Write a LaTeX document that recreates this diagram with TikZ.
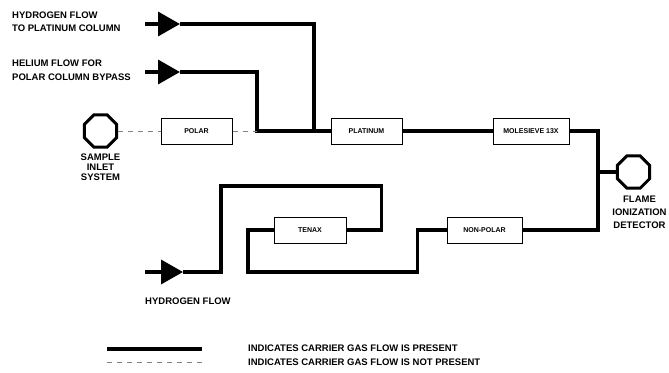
\documentclass[tikz,border=0pt]{standalone}
\usepackage{fontspec}
\setmainfont{Liberation Sans}
\usetikzlibrary{positioning, calc, shapes, arrows.meta}

\tikzset{
  flow/.style={line width=3.5pt},
  noflow/.style={gray, line width=0.8pt, dash pattern=on 5pt off 5pt},
  feed/.style={flow, -{Triangle[length=22pt,width=24pt]}},
  column/.style={draw, line width=1pt, minimum height=26pt, inner sep=0pt, font=\fontsize{7}{8}\selectfont\bfseries},
  detector/.style={draw, regular polygon, regular polygon sides=8, minimum size=35pt, line width=3pt, inner sep=0pt},
  lbl/.style={font=\fontsize{9.5}{13}\selectfont\bfseries, inner sep=0pt}
}

\begin{document}
\begin{tikzpicture}[x=1pt,y=-1pt]
\useasboundingbox (0,0) rectangle (669,372);

\node[detector] (sample) at (100.5,131) {};
\node[lbl, align=center, below=5pt of sample, font=\fontsize{9.5}{10}\selectfont\bfseries] (samplelbl) {SAMPLE\\INLET\\SYSTEM};

\node[column, minimum width=71pt] (polar) at (196.5,131) {POLAR};
\node[column, minimum width=71pt] (platinum) at (366.5,131) {PLATINUM};
\node[column, minimum width=76pt] (molesieve) at (531,131) {MOLESIEVE 13X};
\node[column, minimum width=75pt] (nonpolar) at (484.5,230) {NON-POLAR};
\node[column, minimum width=72pt] (tenax) at (310,230) {TENAX};

\node[detector] (fid) at (633.5,172) {};
\node[lbl, align=center, below=6pt of fid, xshift=6pt] (fidlbl) {FLAME\\IONIZATION\\DETECTOR};

\coordinate (hydroin) at (145,24);
\coordinate (hydro) at (180,24);
\coordinate (heliumin) at (145,72);
\coordinate (helium) at (180,72);
\coordinate (lowin) at (145,272);
\coordinate (low) at (183,272);
\coordinate (hydrojoin) at (314,131);
\coordinate (heliumjoin) at (257,131);
\coordinate (fidjoin) at (598,172);

\node[lbl, align=left, anchor=west, font=\fontsize{9.5}{13}\selectfont\bfseries] (hydrolbl) at (12,21.5) {HYDROGEN FLOW\\TO PLATINUM COLUMN};
\node[lbl, align=left, anchor=west, font=\fontsize{9.5}{14}\selectfont\bfseries] (heliumlbl) at (12,70) {HELIUM FLOW FOR\\POLAR COLUMN BYPASS};
\node[lbl, anchor=west] (lowlbl) at (145,301) {HYDROGEN FLOW};

\draw[feed] (hydroin) -- (hydro);
\draw[feed] (heliumin) -- (helium);
\draw[feed] (lowin) -- (low);

\draw[flow] (hydro) -| (hydrojoin);
\draw[flow] (helium) -| (heliumjoin) -- (platinum.west);
\draw[flow] (platinum) -- (molesieve);
\draw[flow] (molesieve.east) -| (fidjoin) -- (fid);
\draw[flow] (nonpolar.east) -| (fidjoin);
\draw[flow] (nonpolar.west) -- ++(-29,0) |- (248,272) |- (tenax.west);
\draw[flow] (tenax.east) -- ++(35,0) |- (221,186) |- (low);

\draw[noflow] (sample) -- (polar);
\draw[noflow] (polar) -- (heliumjoin);

\coordinate (solida) at (107,349);
\coordinate (solidb) at (202,349);
\coordinate (dasha) at (107,362);
\coordinate (dashb) at (202,362);
\draw[flow] (solida) -- (solidb);
\draw[noflow] (dasha) -- (dashb);
\node[lbl, anchor=west] (presentlbl) at (248,348.5) {INDICATES CARRIER GAS FLOW IS PRESENT};
\node[lbl, anchor=west] (absentlbl) at (248,362.5) {INDICATES CARRIER GAS FLOW IS NOT PRESENT};
\end{tikzpicture}
\end{document}
